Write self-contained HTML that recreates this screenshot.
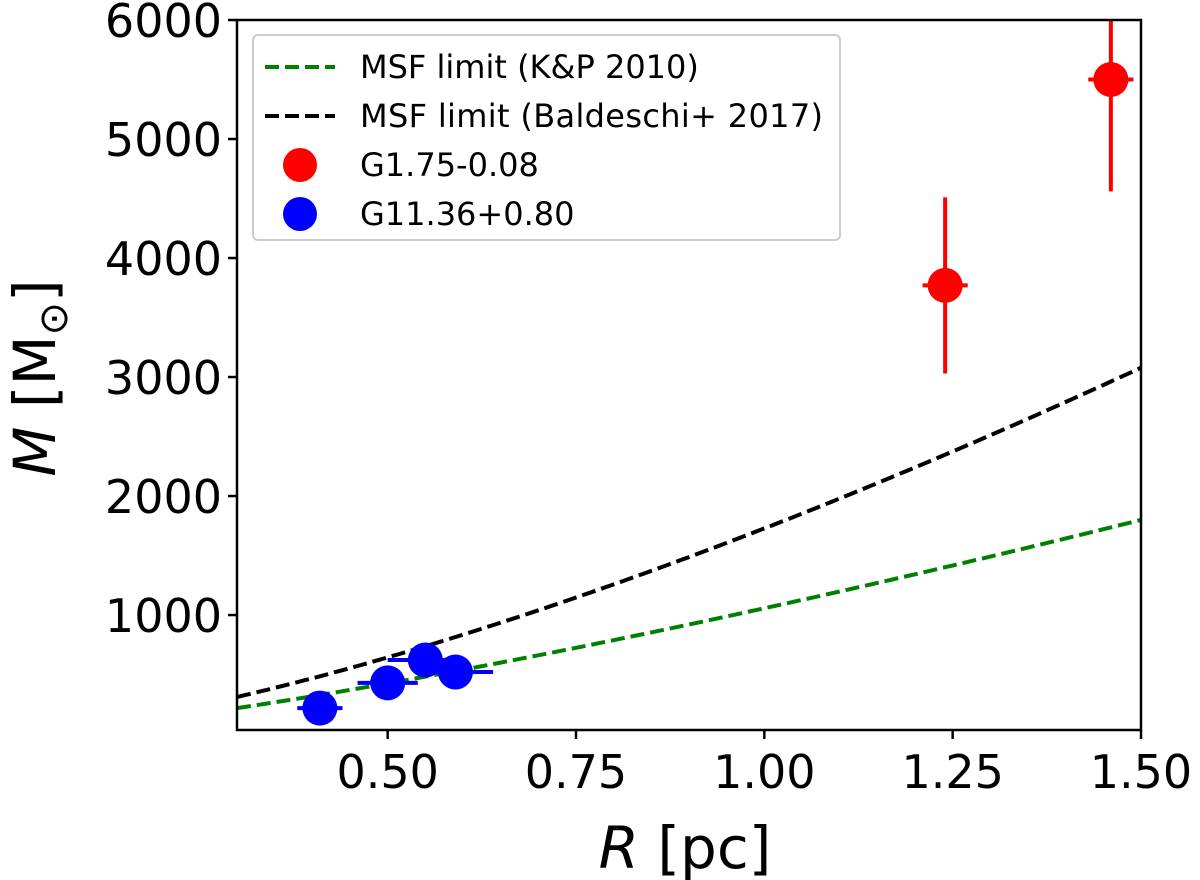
<!DOCTYPE html>
<html><head><meta charset="utf-8"><style>
body{margin:0;background:#fff}
svg{display:block;font-family:"DejaVu Sans","Liberation Sans",sans-serif}
</style></head><body>
<svg id="chart" width="1200" height="880">
<g id="plot"></g>
</svg>
<script>
const xTicks=[0.50,0.75,1.00,1.25,1.50];
const xTickLabels=["0.50","0.75","1.00","1.25","1.50"];
const yTicks=[1000,2000,3000,4000,5000,6000];
const yTickLabels=["1000","2000","3000","4000","5000","6000"];
const redR=[1.24,1.46];
const redM=[3770,5500];
const redMerr=[740,940];
const redRerr=[0.03,0.03];
const blueR=[0.41,0.50,0.55,0.59];
const blueM=[218,430,622,521];
const blueRerr=[0.03,0.04,0.05,0.05];
const kpCoef=1057, kpExp=1.312;
const baCoef=1728, baExp=1.424;

const L=237,R=1141,T=20,B=730;
const x=v=>L+(v-0.3)/(1.5-0.3)*(R-L);
const y=v=>B-(v-34)/(6000-34)*(B-T);
const NS="http://www.w3.org/2000/svg";
const svg=document.getElementById('chart');
function mk(t,a,p){const e=document.createElementNS(NS,t);for(const k in a)e.setAttribute(k,a[k]);(p||svg).appendChild(e);return e;}
const defs=mk('defs',{});
const cp=mk('clipPath',{id:'cp'},defs);mk('rect',{x:L,y:T,width:R-L,height:B-T},cp);
const g=mk('g',{'clip-path':'url(#cp)'});


function curve(c,e,col,name){let d='';for(let i=0;i<=120;i++){const r=0.3+1.2*i/120;d+=(i?'L':'M')+x(r).toFixed(1)+' '+y(c*Math.pow(r,e)).toFixed(1);}
const p=mk('path',{d:d,fill:'none',stroke:col,'stroke-width':4,'stroke-dasharray':'14 6'},g);

}
curve(baCoef,baExp,'#000','baldeschi-limit-line');
curve(kpCoef,kpExp,'#008000','kp-limit-line');
function pts(rs,ms,rerr,merr,col,name){rs.forEach((r,i)=>{
if(merr){const l=mk('line',{x1:x(r),x2:x(r),y1:y(ms[i]-merr[i]),y2:y(ms[i]+merr[i]),stroke:col,'stroke-width':4},g);

}
const h=mk('line',{x1:x(r-rerr[i]),x2:x(r+rerr[i]),y1:y(ms[i]),y2:y(ms[i]),stroke:col,'stroke-width':4},g);


const c=mk('circle',{cx:x(r),cy:y(ms[i]),r:17.5,fill:col},g);

});}
pts(redR,redM,redRerr,redMerr,'#ff0000','g175');
pts(blueR,blueM,blueRerr,null,'#0000ff','g1136');
const fr=mk('rect',{x:L,y:T,width:R-L,height:B-T,fill:'none',stroke:'#000','stroke-width':2.5});


xTicks.forEach((v,i)=>{mk('line',{x1:x(v),x2:x(v),y1:B,y2:B+9,stroke:'#000','stroke-width':2.5});
const t=mk('text',{x:x(v),y:B+58,'text-anchor':'middle','font-size':46});t.textContent=xTickLabels[i];

});
yTicks.forEach((v,i)=>{mk('line',{x1:L-9,x2:L,y1:y(v),y2:y(v),stroke:'#000','stroke-width':2.5});
const t=mk('text',{x:L-15,y:y(v)+17,'text-anchor':'end','font-size':46});t.textContent=yTickLabels[i];

});
const xl=mk('text',{x:685,y:868,'text-anchor':'middle','font-size':58});
xl.innerHTML='<tspan font-style="italic">R</tspan> [pc]';


const yl=mk('text',{x:0,y:0,'text-anchor':'middle','font-size':58,transform:'translate(55,378) rotate(-90)'});
yl.innerHTML='<tspan font-style="italic">M</tspan> [M<tspan font-size="40" dy="12">⊙</tspan><tspan dy="-12">]</tspan>';


const lg=mk('g',{});


mk('rect',{x:253,y:35,width:587,height:205,rx:5,fill:'#fff',stroke:'#ccc','stroke-width':2},lg);
const items=[['line','#008000','MSF limit (K&P 2010)'],['line','#000','MSF limit (Baldeschi+ 2017)'],['dot','#ff0000','G1.75-0.08'],['dot','#0000ff','G11.36+0.80']];
items.forEach((it,i)=>{const cy=67+i*49;
if(it[0]=='line')mk('line',{x1:265,x2:335,y1:cy,y2:cy,stroke:it[1],'stroke-width':4,'stroke-dasharray':'14 6'},lg);
else mk('circle',{cx:300,cy:cy,r:17,fill:it[1]},lg);
const t=mk('text',{x:360,y:cy+11,'font-size':32,textLength:it[2].length>20?463:null},lg);t.textContent=it[2];
if(!(it[2].length>20))t.removeAttribute('textLength');

});
</script>
</body></html>
